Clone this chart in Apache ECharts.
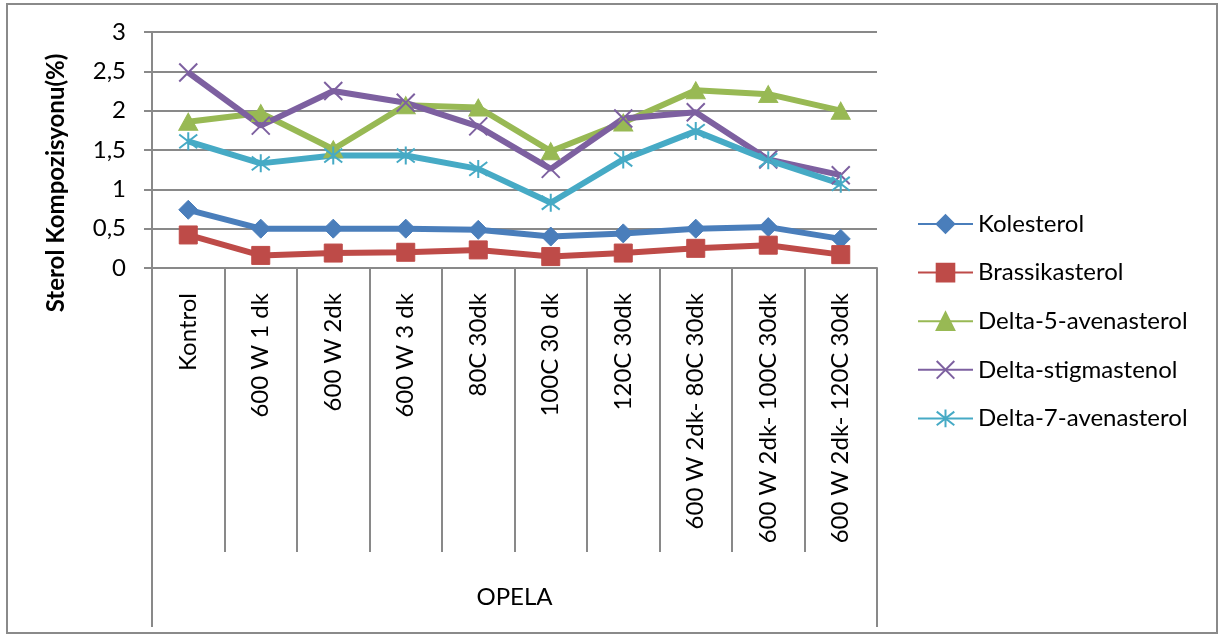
<!DOCTYPE html>
<html>
<head>
<meta charset="utf-8">
<script src="https://cdn.jsdelivr.net/npm/echarts@6/dist/echarts.min.js"></script>
<style>
  html, body { margin: 0; padding: 0; background: #ffffff; }
  #chart { width: 1219px; height: 636px; }
</style>
</head>
<body>
<div id="chart"></div>
<script>
// Sample treatments (first axis level) and the sample group (second level)
const categories = [
  'Kontrol', '600 W 1 dk', '600 W 2dk', '600 W 3 dk', '80C 30dk',
  '100C 30 dk', '120C 30dk', '600 W 2dk- 80C 30dk',
  '600 W 2dk- 100C 30dk', '600 W 2dk- 120C 30dk'
];
const groupLabels = ['OPELA'];

// Sterol composition (%) per treatment
const kolesterol      = [0.74, 0.50, 0.50, 0.50, 0.485, 0.40, 0.44, 0.50, 0.52, 0.37];
const brassikasterol  = [0.42, 0.16, 0.19, 0.20, 0.23, 0.145, 0.19, 0.25, 0.29, 0.17];
const delta5Avena     = [1.86, 1.97, 1.51, 2.07, 2.04, 1.485, 1.85, 2.26, 2.21, 2.00];
const deltaStigma     = [2.485, 1.81, 2.25, 2.10, 1.80, 1.26, 1.90, 1.98, 1.38, 1.18];
const delta7Avena     = [1.61, 1.33, 1.43, 1.43, 1.26, 0.83, 1.38, 1.74, 1.37, 1.07];

const seriesNames = ['Kolesterol', 'Brassikasterol', 'Delta-5-avenasterol', 'Delta-stigmastenol', 'Delta-7-avenasterol'];
const yTicks = { min: 0, max: 3, step: 0.5 };

const FONT = 'Lato';
const GRID_GRAY = '#898989';
const CROSS = 'path://M0,0L10,10M0,10L10,0';
const ASTERISK = 'path://M0,0L10,10M0,10L10,0M5,-1.5L5,11.5';

function lineSeries(name, data, color, symbol, size, stroked) {
  return {
    name: name,
    type: 'line',
    data: data,
    symbol: symbol,
    symbolSize: size,
    showAllSymbol: true,
    lineStyle: { color: color, width: 6 },
    itemStyle: stroked
      ? { color: color, borderColor: color, borderWidth: 2 }
      : { color: color, borderColor: color, borderWidth: 1 },
    emphasis: { disabled: true },
    z: 3
  };
}

const chart = echarts.init(document.getElementById('chart'), null, { renderer: 'canvas' });

chart.setOption({
  animation: false,
  backgroundColor: '#ffffff',
  textStyle: { fontFamily: FONT, color: '#000000' },
  graphic: [{
    type: 'rect',
    shape: { x: 7, y: 4, width: 1210, height: 629 },
    style: { fill: 'none', stroke: '#8a8a8a', lineWidth: 2 },
    silent: true,
    z: -1
  }],
  grid: { left: 152, right: 342, top: 32, bottom: 368 },
  legend: {
    orient: 'vertical',
    left: 912,
    top: 207,
    itemWidth: 55,
    itemHeight: 22,
    itemGap: 24.6,
    data: seriesNames,
    textStyle: { fontFamily: FONT, fontSize: 24, color: '#000000', lineHeight: 24 }
  },
  xAxis: [{
    type: 'category',
    data: categories,
    boundaryGap: true,
    axisLine: { show: true, lineStyle: { color: GRID_GRAY, width: 2 } },
    axisTick: { show: true, interval: 0, length: 284, lineStyle: { color: GRID_GRAY, width: 2 } },
    axisLabel: {
      interval: 0, rotate: 90, margin: 25,
      fontFamily: FONT, fontSize: 24, color: '#000000'
    },
    splitLine: { show: false }
  }, {
    type: 'category',
    data: groupLabels,
    position: 'bottom',
    boundaryGap: true,
    axisLine: { show: false },
    axisTick: { show: true, interval: 0, length: 359, lineStyle: { color: GRID_GRAY, width: 2 } },
    axisLabel: {
      margin: 316, fontFamily: FONT, fontSize: 24, color: '#000000', lineHeight: 26
    },
    splitLine: { show: false }
  }],
  yAxis: {
    type: 'value',
    min: yTicks.min,
    max: yTicks.max,
    interval: yTicks.step,
    name: 'Sterol Kompozisyonu(%)',
    nameLocation: 'middle',
    nameGap: 84,
    nameTextStyle: {
      fontFamily: FONT, fontSize: 24, fontWeight: 'bold', color: '#000000',
      padding: [0, 66, 0, 0]
    },
    axisLine: { show: true, lineStyle: { color: GRID_GRAY, width: 2 } },
    axisTick: { show: true, inside: false, length: 8, lineStyle: { color: GRID_GRAY, width: 2 } },
    axisLabel: {
      margin: 26, fontFamily: FONT, fontSize: 24, color: '#000000',
      formatter: v => String(v).replace('.', ',')
    },
    splitLine: { show: true, lineStyle: { color: GRID_GRAY, width: 2 } }
  },
  series: [
    lineSeries(seriesNames[0], kolesterol, '#4A7EBB', 'diamond', [19, 19], false),
    lineSeries(seriesNames[1], brassikasterol, '#BE4B48', 'rect', [18, 18], false),
    lineSeries(seriesNames[2], delta5Avena, '#98B954', 'triangle', [19, 17], false),
    lineSeries(seriesNames[3], deltaStigma, '#7D60A0', CROSS, [18, 18], true),
    lineSeries(seriesNames[4], delta7Avena, '#46AAC5', ASTERISK, [18, 18], true)
  ]
});
</script>
</body>
</html>
